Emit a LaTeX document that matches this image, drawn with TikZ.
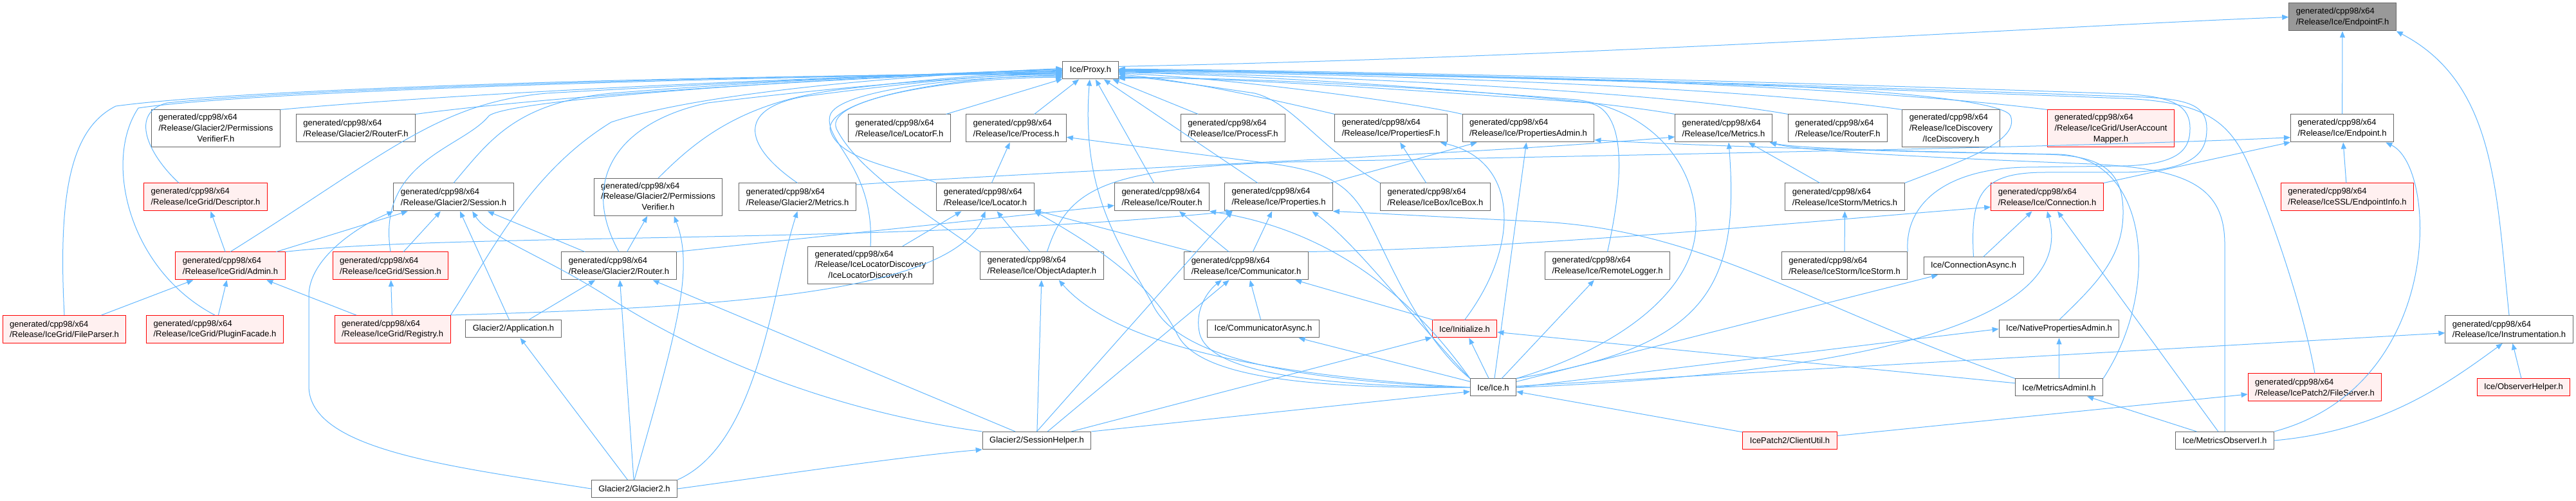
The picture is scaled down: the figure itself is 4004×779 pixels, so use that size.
\documentclass[tikz,border=0pt]{standalone}
\usepackage{fontspec}
\setmainfont{Liberation Sans}
\usepackage{xcolor}
\usetikzlibrary{arrows.meta}
\definecolor{edgeblue}{HTML}{63B8FF}
\definecolor{grey40}{HTML}{666666}
\definecolor{grey60}{HTML}{999999}
\definecolor{truncfill}{HTML}{FFF0F0}
\newcommand{\graphfont}{\fontsize{6.5}{8.35}\selectfont}
\newcommand{\tripleline}[3]{\begin{tabular}{@{}l@{}}#1\\#2\\\multicolumn{1}{@{}c@{}}{#3}\end{tabular}}
\tikzset{
    file/.style={
        draw=grey40,
        fill=white,
        line width=0.5pt,
        inner xsep=5.5pt,
        inner ysep=0pt,
        minimum height=13.5pt,
        align=left,
        font=\graphfont
    },
    trunc/.style={file, draw=red, fill=truncfill},
    target/.style={file, fill=grey60},
    two/.style={minimum height=21.5pt},
    three/.style={minimum height=29pt},
    incl/.style={
        draw=edgeblue,
        line width=0.5pt,
        -{Triangle[length=5pt, width=4pt]}
    }
}

\begin{document}
\begin{tikzpicture}[x=0.5pt, y=-0.5pt]
  \path[use as bounding box, fill=white] (0,0) rectangle (4004,779);

  % The header itself
  \node[target, two] (ef) at (3641,26.5) {generated/cpp98/x64\\/Release/Ice/EndpointF.h};

  % Proxy header
  \node[file] (px) at (1695,109.5) {Ice/Proxy.h};

  % First row
  \node[file, three] (pvf) at (335.5,200) {\tripleline{generated/cpp98/x64}{/Release/Glacier2/Permissions}{VerifierF.h}};
  \node[file, two] (grf) at (553,199.5) {generated/cpp98/x64\\/Release/Glacier2/RouterF.h};
  \node[file, two] (lf) at (1398,199.5) {generated/cpp98/x64\\/Release/Ice/LocatorF.h};
  \node[file, two] (pr) at (1579.5,199.5) {generated/cpp98/x64\\/Release/Ice/Process.h};
  \node[file, two] (prf) at (1916.5,199.5) {generated/cpp98/x64\\/Release/Ice/ProcessF.h};
  \node[file, two] (pf) at (2162,199.5) {generated/cpp98/x64\\/Release/Ice/PropertiesF.h};
  \node[file, two] (pa) at (2375.5,199.5) {generated/cpp98/x64\\/Release/Ice/PropertiesAdmin.h};
  \node[file, two] (mt) at (2679,199.5) {generated/cpp98/x64\\/Release/Ice/Metrics.h};
  \node[file, two] (rf) at (2856.5,199.5) {generated/cpp98/x64\\/Release/Ice/RouterF.h};
  \node[file, three] (id) at (3032.5,200) {\tripleline{generated/cpp98/x64}{/Release/IceDiscovery}{/IceDiscovery.h}};
  \node[trunc, three] (uam) at (3281,200) {\tripleline{generated/cpp98/x64}{/Release/IceGrid/UserAccount}{Mapper.h}};
  \node[file, two] (ep) at (3640.5,199.5) {generated/cpp98/x64\\/Release/Ice/Endpoint.h};

  % Second row
  \node[trunc, two] (ds) at (319.5,306.5) {generated/cpp98/x64\\/Release/IceGrid/Descriptor.h};
  \node[file, two] (gs) at (705,306.5) {generated/cpp98/x64\\/Release/Glacier2/Session.h};
  \node[file, three] (pv) at (1023,306.5) {\tripleline{generated/cpp98/x64}{/Release/Glacier2/Permissions}{Verifier.h}};
  \node[file, two] (gm) at (1239.5,306.5) {generated/cpp98/x64\\/Release/Glacier2/Metrics.h};
  \node[file, two] (lc) at (1531.5,306.5) {generated/cpp98/x64\\/Release/Ice/Locator.h};
  \node[file, two] (rt) at (1806,306.5) {generated/cpp98/x64\\/Release/Ice/Router.h};
  \node[file, two] (pp) at (1987.5,306.5) {generated/cpp98/x64\\/Release/Ice/Properties.h};
  \node[file, two] (ib) at (2231,306.5) {generated/cpp98/x64\\/Release/IceBox/IceBox.h};
  \node[file, two] (ism) at (2867.5,306.5) {generated/cpp98/x64\\/Release/IceStorm/Metrics.h};
  \node[trunc, two] (cn) at (3182,306.5) {generated/cpp98/x64\\/Release/Ice/Connection.h};
  \node[trunc, two] (ei) at (3648.5,306.5) {generated/cpp98/x64\\/Release/IceSSL/EndpointInfo.h};

  % Third row
  \node[trunc, two] (ad) at (358,413.5) {generated/cpp98/x64\\/Release/IceGrid/Admin.h};
  \node[trunc, two] (igs) at (607,413.5) {generated/cpp98/x64\\/Release/IceGrid/Session.h};
  \node[file, two] (gr) at (962,413.5) {generated/cpp98/x64\\/Release/Glacier2/Router.h};
  \node[file, three] (ild) at (1353,412.5) {\tripleline{generated/cpp98/x64}{/Release/IceLocatorDiscovery}{/IceLocatorDiscovery.h}};
  \node[file, two] (oa) at (1619.5,413.5) {generated/cpp98/x64\\/Release/Ice/ObjectAdapter.h};
  \node[file, two] (cm) at (1937,413.5) {generated/cpp98/x64\\/Release/Ice/Communicator.h};
  \node[file, two] (rl) at (2498.5,413.5) {generated/cpp98/x64\\/Release/Ice/RemoteLogger.h};
  \node[file, two] (is) at (2867,413.5) {generated/cpp98/x64\\/Release/IceStorm/IceStorm.h};
  \node[file] (ca) at (3067.5,413.5) {Ice/ConnectionAsync.h};

  % Fourth row
  \node[trunc, two] (fp) at (100,512) {generated/cpp98/x64\\/Release/IceGrid/FileParser.h};
  \node[trunc, two] (pfc) at (334,512) {generated/cpp98/x64\\/Release/IceGrid/PluginFacade.h};
  \node[trunc, two] (rg) at (610,512) {generated/cpp98/x64\\/Release/IceGrid/Registry.h};
  \node[file] (app) at (798,511.5) {Glacier2/Application.h};
  \node[file] (cma) at (1963.5,511.5) {Ice/CommunicatorAsync.h};
  \node[trunc] (ini) at (2276.5,511.5) {Ice/Initialize.h};
  \node[file] (npa) at (3200.5,511.5) {Ice/NativePropertiesAdmin.h};
  \node[file, two] (ins) at (3900,512) {generated/cpp98/x64\\/Release/Ice/Instrumentation.h};

  % Fifth row
  \node[file] (ice) at (2321,602.5) {Ice/Ice.h};
  \node[file] (mai) at (3200.5,602.5) {Ice/MetricsAdminI.h};
  \node[trunc, two] (fs) at (3598,602.5) {generated/cpp98/x64\\/Release/IcePatch2/FileServer.h};
  \node[trunc] (oh) at (3922.5,602.5) {Ice/ObserverHelper.h};

  % Bottom rows
  \node[file] (sh) at (1611.5,685) {Glacier2/SessionHelper.h};
  \node[trunc] (cu) at (2782,685) {IcePatch2/ClientUtil.h};
  \node[file] (moi) at (3458,685) {Ice/MetricsObserverI.h};
  \node[file] (g2) at (986,760) {Glacier2/Glacier2.h};

  % Into the header itself
  \draw[incl] (px.8) .. controls (2500,88) and (3200,40) .. (ef.west);
  \draw[incl] (ep) -- (ef);
  \draw[incl] (ins.north) .. controls (3880,300) and (3880,130) .. (ef.south east);

  % Into Ice/Proxy.h from the left
  \draw[incl] (fp.north) .. controls (90,300) and (110,200) .. (180,165) .. controls (400,135) and (1200,115) .. (px.188);
  \draw[incl] (pfc.north) .. controls (200,420) and (160,250) .. (215,168) .. controls (400,140) and (1200,118) .. (px.186);
  \draw[incl] (ds.152) .. controls (230,240) and (200,175) .. (260,160) .. controls (500,135) and (1200,118) .. (px.184);
  \draw[incl] (pvf.north east) .. controls (650,150) and (1200,120) .. (px.182);
  \draw[incl] (grf.north east) .. controls (850,150) and (1300,120) .. (px.181);
  \draw[incl] (ad.north) .. controls (600,240) and (680,160) .. (850,145) .. controls (1200,125) and (1500,112) .. (px.180);
  \draw[incl] (igs.north) .. controls (585,250) and (720,230) .. (760,180) .. controls (800,150) and (1400,115) .. (px.178);
  \draw[incl] (rg.north east) .. controls (760,400) and (820,270) .. (950,190) .. controls (1100,140) and (1450,115) .. (px.176);
  \draw[incl] (gs.north) .. controls (760,220) and (800,160) .. (950,145) .. controls (1200,125) and (1500,112) .. (px.178);
  \draw[incl] (pv.north) .. controls (1080,220) and (1150,160) .. (1300,140) .. controls (1450,122) and (1550,114) .. (px.184);
  \draw[incl] (gm.north) .. controls (1160,230) and (1140,170) .. (1250,150) .. controls (1400,130) and (1550,115) .. (px.186);
  \draw[incl] (gr.north) .. controls (900,280) and (960,190) .. (1100,160) .. controls (1300,135) and (1550,115) .. (px.188);
  \draw[incl] (lc.north west) .. controls (1400,260) and (1300,250) .. (1290,200) .. controls (1290,150) and (1500,118) .. (px.190);
  \draw[incl] (ild.north) .. controls (1360,260) and (1280,220) .. (1290,180) .. controls (1300,140) and (1500,118) .. (px.192);
  \draw[incl] (oa.north west) .. controls (1420,320) and (1330,260) .. (1300,200) .. controls (1280,150) and (1500,120) .. (px.194);

  % Into Ice/Proxy.h from below
  \draw[incl] (lf) -- (px);
  \draw[incl] (pr) -- (px);
  \draw[incl] (rt) -- (px);
  \draw[incl] (pp) -- (px);
  \draw[incl] (prf) -- (px);
  \draw[incl] (ice.west) .. controls (1950,590) and (1820,540) .. (1790,470) .. controls (1740,380) and (1680,300) .. (px.-95);

  % Into Ice/Proxy.h from the right
  \draw[incl] (pf.north west) .. controls (2000,160) and (1850,125) .. (px.-8);
  \draw[incl] (pa.north west) .. controls (2200,160) and (1900,120) .. (px.-6);
  \draw[incl] (mt.north west) .. controls (2450,150) and (2000,118) .. (px.-4);
  \draw[incl] (rf.north west) .. controls (2600,145) and (2100,118) .. (px.-3);
  \draw[incl] (id.north west) .. controls (2750,140) and (2200,115) .. (px.-2);
  \draw[incl] (uam.north west) .. controls (2900,135) and (2300,112) .. (px.-1);
  \draw[incl] (ib.north west) .. controls (2050,230) and (2010,160) .. (1950,145) .. controls (1850,130) and (1780,120) .. (px.-12);
  \draw[incl] (rl.north) .. controls (2530,250) and (2520,170) .. (2470,160) .. controls (2200,140) and (1900,120) .. (px.-14);
  \draw[incl] (ice.north east) .. controls (2520,540) and (2635,450) .. (2636,350) .. controls (2637,250) and (2560,170) .. (2450,155) .. controls (2200,135) and (1900,118) .. (px.-16);
  \draw[incl] (ism.north east) .. controls (3050,250) and (3140,220) .. (3125,180) .. controls (3110,150) and (2800,130) .. (2500,125) .. controls (2200,118) and (1900,110) .. (px.east);
  \draw[incl] (is.north east) .. controls (2960,320) and (3020,262) .. (3150,260) -- (3300,258) .. controls (3390,256) and (3404,230) .. (3404,200) .. controls (3404,165) and (3380,150) .. (3300,146) .. controls (2700,125) and (2100,110) .. (px.3);
  \draw[incl] (ca.north) .. controls (3062,300) and (3080,268) .. (3180,268) -- (3300,268) .. controls (3415,266) and (3430,235) .. (3430,200) .. controls (3430,160) and (3395,152) .. (3300,150) .. controls (2700,128) and (2100,112) .. (px.2);
  \draw[incl] (fs.north) .. controls (3580,480) and (3530,330) .. (3490,245) .. controls (3460,185) and (3420,158) .. (3300,153) .. controls (2700,130) and (2100,113) .. (px.1);

  % Endpoint.h
  \draw[incl] (ei) -- (ep);
  \draw[incl] (cn.north east) -- (ep.-165);
  \draw[incl] (oa.70) .. controls (1660,290) and (1720,262) .. (2000,252) .. controls (2800,236) and (3300,226) .. (ep.-170);
  \draw[incl] (moi.north east) .. controls (3800,600) and (3790,260) .. (ep.-18);

  % IceGrid headers
  \draw[incl] (ad) -- (ds);
  \draw[incl] (ad) -- (gs);
  \draw[incl] (ad.north east) .. controls (700,362) and (1400,380) .. (pp.-163);
  \draw[incl] (fp) -- (ad);
  \draw[incl] (pfc) -- (ad);
  \draw[incl] (rg) -- (ad);
  \draw[incl] (rg) -- (igs);
  \draw[incl] (rg.north east) .. controls (1100,478) and (1480,460) .. (lc.south);
  \draw[incl] (igs) -- (gs);

  % Glacier2 headers
  \draw[incl] (app) -- (gs);
  \draw[incl] (app) -- (gr);
  \draw[incl] (gr) -- (gs);
  \draw[incl] (gr) -- (pv);
  \draw[incl] (gr.north east) -- (rt.-170);
  \draw[incl] (g2) -- (app);
  \draw[incl] (g2) -- (gr);
  \draw[incl] (g2.north) .. controls (1050,520) and (1080,420) .. (pv.-50);
  \draw[incl] (g2.north east) .. controls (1180,690) and (1200,450) .. (gm.south);
  \draw[incl] (g2.west) .. controls (700,725) and (480,700) .. (480,600) -- (480,460) .. controls (480,400) and (560,350) .. (gs.south west);
  \draw[incl] (g2.east) .. controls (1200,740) and (1400,710) .. (sh.south west);
  \draw[incl] (gm.12) .. controls (1700,262) and (2300,240) .. (mt.-170);

  % Glacier2/SessionHelper.h
  \draw[incl] (sh.north west) .. controls (1300,640) and (1100,560) .. (950,465) .. controls (850,400) and (760,370) .. (gs.-37);
  \draw[incl] (sh) -- (gr);
  \draw[incl] (sh) -- (oa);
  \draw[incl] (sh.north) -- (pp.-163);
  \draw[incl] (sh) -- (cm);
  \draw[incl] (sh) -- (ini);
  \draw[incl] (sh.north east) -- (ice.-170);

  % Locator and router
  \draw[incl] (lc) -- (pr);
  \draw[incl] (ild) -- (lc);
  \draw[incl] (oa) -- (lc);
  \draw[incl] (cm) -- (lc);
  \draw[incl] (ice.west) .. controls (2000,605) and (1860,580) .. (1830,520) .. controls (1790,440) and (1700,380) .. (lc.south east);
  \draw[incl] (cm) -- (rt);
  \draw[incl] (ice.north west) .. controls (2200,470) and (2080,360) .. (rt.south east);
  \draw[incl] (ice.north west) .. controls (2200,520) and (2150,380) .. (2120,330) .. controls (2090,280) and (2050,265) .. (1980,255) -- (pr.-10);

  % Properties
  \draw[incl] (pp) -- (pa);
  \draw[incl] (cm) -- (pp);
  \draw[incl] (ice.north west) .. controls (2200,500) and (2110,380) .. (pp.-23);
  \draw[incl] (mai.north west) .. controls (2800,470) and (2650,360) .. (2400,345) .. controls (2250,338) and (2150,332) .. (pp.south east);
  \draw[incl] (ib) -- (pf);
  \draw[incl] (ini.north) .. controls (2365,380) and (2360,250) .. (pf.-16);
  \draw[incl] (ice) -- (pa);

  % Communicator and object adapter
  \draw[incl] (ice.west) .. controls (1900,580) and (1720,520) .. (oa.-40);
  \draw[incl] (ice.west) .. controls (2000,600) and (1880,570) .. (1865,520) .. controls (1855,480) and (1880,450) .. (cm.-150);
  \draw[incl] (ice) -- (cma);
  \draw[incl] (cma) -- (cm);
  \draw[incl] (ini) -- (cm);
  \draw[incl] (ice) -- (ini);

  % Metrics
  \draw[incl] (ism) -- (mt);
  \draw[incl] (ice.north east) .. controls (2650,540) and (2705,450) .. (mt.-70);
  \draw[incl] (mai.north east) .. controls (3360,450) and (3340,245) .. (3200,240) .. controls (3000,236) and (2800,232) .. (mt.-17);
  \draw[incl] (moi.north) -- (3458,380) .. controls (3458,290) and (3400,262) .. (3250,255) .. controls (3000,245) and (2800,235) .. (mt.-17);

  % Admin and observers
  \draw[incl] (npa.north) .. controls (3260,440) and (3300,400) .. (3300,330) .. controls (3300,260) and (3260,242) .. (3180,240) .. controls (2900,235) and (2600,225) .. (pa.-10);
  \draw[incl] (ice.east) -- (npa.west);
  \draw[incl] (mai) -- (npa);
  \draw[incl] (mai) -- (ini);
  \draw[incl] (ice) -- (ins);
  \draw[incl] (oh) -- (ins);
  \draw[incl] (moi.east) .. controls (3700,670) and (3800,600) .. (ins.-115);
  \draw[incl] (moi) -- (mai);
  \draw[incl] (moi) -- (cn);

  % Connection.h
  \draw[incl] (ca) -- (cn);
  \draw[incl] (ice.east) .. controls (2900,580) and (3230,500) .. (cn.south);
  \draw[incl] (cm.north east) .. controls (2400,385) and (2800,345) .. (cn.-170);

  % IceStorm, logger, patch
  \draw[incl] (is) -- (ism);
  \draw[incl] (ice) -- (ca);
  \draw[incl] (ice) -- (rl);
  \draw[incl] (cu) -- (ice);
  \draw[incl] (cu) -- (fs);
\end{tikzpicture}
\end{document}
